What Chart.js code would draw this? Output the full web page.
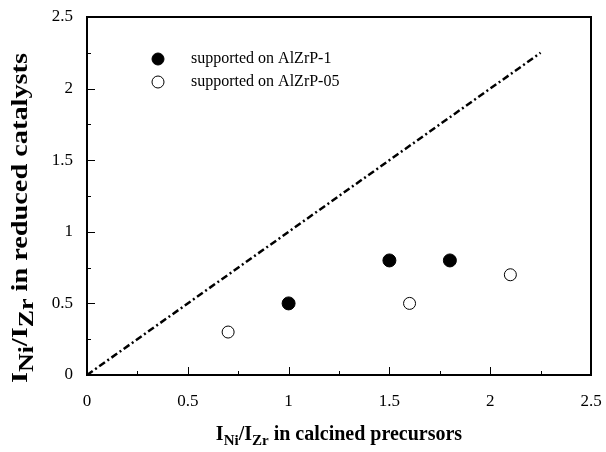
<!DOCTYPE html>
<html><head><meta charset="utf-8">
<script src="https://cdn.jsdelivr.net/npm/chart.js@4"></script>
<style>html,body{margin:0;padding:0;background:#fff}#wrap{width:606px;height:452px}</style>
</head><body><div id="wrap"><canvas id="c" width="606" height="452"></canvas></div>
<script>
const seriesNames = ['supported on AlZrP-1', 'supported on AlZrP-05'];
const calcinedP1 = [1.0, 1.5, 1.8];
const reducedP1 = [0.5, 0.8, 0.8];
const calcinedP05 = [0.7, 1.6, 2.1];
const reducedP05 = [0.3, 0.5, 0.7];
const parityX = [0, 2.25];
const parityY = [0, 2.25];
const majorTicks = [0, 0.5, 1, 1.5, 2, 2.5];
const minorTicks = [0.25, 0.75, 1.25, 1.75, 2.25];
const xTitleParts = [['I', 0], ['Ni', 1], ['/I', 0], ['Zr', 1], [' in calcined precursors', 0]];
const yTitleParts = [['I', 0], ['Ni', 1], ['/I', 0], ['Zr', 1], [' in reduced catalysts', 0]];

const pts = (xs, ys) => xs.map((x, i) => ({x, y: ys[i]}));
const SERIF = '"Liberation Serif", "Times New Roman", serif';

function drawRich(ctx, parts, cx, cy, mainSize, subSize, subOff, targetLen) {
  const mainF = 'bold ' + mainSize + 'px ' + SERIF, subF = 'bold ' + subSize + 'px ' + SERIF;
  let w = 0;
  parts.forEach(([t, s]) => { ctx.font = s ? subF : mainF; w += ctx.measureText(t).width; });
  const k = targetLen ? targetLen / w : 1;
  ctx.save();
  ctx.translate(cx, cy);
  ctx.scale(k, 1);
  let x = -w / 2;
  ctx.textBaseline = 'alphabetic'; ctx.textAlign = 'left'; ctx.fillStyle = '#000';
  parts.forEach(([t, s]) => {
    ctx.font = s ? subF : mainF;
    ctx.fillText(t, x, s ? subOff : 0);
    x += ctx.measureText(t).width;
  });
  ctx.restore();
}

const framePlugin = {
  id: 'frame',
  afterDraw(chart) {
    const {ctx, chartArea: a, scales: {x, y}} = chart;
    ctx.save();
    ctx.strokeStyle = '#000';
    ctx.lineWidth = 2;
    ctx.strokeRect(a.left, a.top, a.right - a.left, a.bottom - a.top);
    ctx.lineWidth = 1;
    ctx.beginPath();
    majorTicks.forEach(v => {
      const px = Math.round(x.getPixelForValue(v)) + 0.5;
      ctx.moveTo(px, a.bottom); ctx.lineTo(px, a.bottom - 8);
      const py = Math.round(y.getPixelForValue(v)) + 0.5;
      ctx.moveTo(a.left, py); ctx.lineTo(a.left + 8, py);
    });
    minorTicks.forEach(v => {
      const px = Math.round(x.getPixelForValue(v)) + 0.5;
      ctx.moveTo(px, a.bottom); ctx.lineTo(px, a.bottom - 4);
      const py = Math.round(y.getPixelForValue(v)) + 0.5;
      ctx.moveTo(a.left, py); ctx.lineTo(a.left + 4, py);
    });
    ctx.stroke();
    // legend
    const ds = chart.data.datasets;
    [0, 1].forEach(i => {
      const ly = 59 + i * 23;
      ctx.beginPath();
      ctx.arc(158, ly, 6, 0, Math.PI * 2);
      ctx.fillStyle = ds[i].backgroundColor;
      ctx.fill();
      ctx.lineWidth = 1;
      ctx.strokeStyle = ds[i].borderColor;
      ctx.stroke();
      ctx.fillStyle = '#000';
      ctx.font = '16px ' + SERIF;
      ctx.textAlign = 'left'; ctx.textBaseline = 'middle';
      ctx.fillText(ds[i].label, 191, ly);
    });
    // titles
    drawRich(ctx, xTitleParts, (a.left + a.right) / 2, 440, 20, 15, 5, 0);
    ctx.save();
    ctx.translate(27, 218);
    ctx.rotate(-Math.PI / 2);
    drawRich(ctx, yTitleParts, 0, 0, 23, 21, 6, 330);
    ctx.restore();
    ctx.restore();
  }
};

const tickCfg = {padding: 14, color: '#000', font: {family: SERIF, size: 17}, callback: v => String(v)};
const zeroPad = s => { s.paddingTop = 0; s.paddingBottom = 0; s.paddingLeft = 0; s.paddingRight = 0; };

new Chart(document.getElementById('c'), {
  type: 'scatter',
  data: {
    datasets: [
      {label: seriesNames[0], data: pts(calcinedP1, reducedP1), backgroundColor: '#000', borderColor: '#000', pointRadius: 6.5, pointBorderWidth: 1},
      {label: seriesNames[1], data: pts(calcinedP05, reducedP05), backgroundColor: '#fff', borderColor: '#000', pointRadius: 6, pointBorderWidth: 1},
      {label: 'y = x', data: pts(parityX, parityY), showLine: true, borderColor: '#000', borderWidth: 2.5, borderDash: [7, 3, 2, 3], pointRadius: 0, fill: false}
    ]
  },
  options: {
    responsive: false,
    animation: false,
    devicePixelRatio: 1,
    layout: {padding: {top: 17, right: 15, left: 0, bottom: 0}},
    plugins: {legend: {display: false}, tooltip: {enabled: false}},
    scales: {
      x: {
        type: 'linear', min: 0, max: 2.5,
        afterBuildTicks: s => { s.ticks = majorTicks.map(v => ({value: v})); },
        afterFit: s => { s.height = 77; zeroPad(s); },
        grid: {display: false, drawTicks: false}, border: {display: false},
        ticks: Object.assign({}, tickCfg, {padding: 16})
      },
      y: {
        type: 'linear', min: 0, max: 2.5,
        afterBuildTicks: s => { s.ticks = majorTicks.map(v => ({value: v})); },
        afterFit: s => { s.width = 87; zeroPad(s); },
        grid: {display: false, drawTicks: false}, border: {display: false},
        ticks: tickCfg
      }
    }
  },
  plugins: [framePlugin]
});
</script></body></html>
